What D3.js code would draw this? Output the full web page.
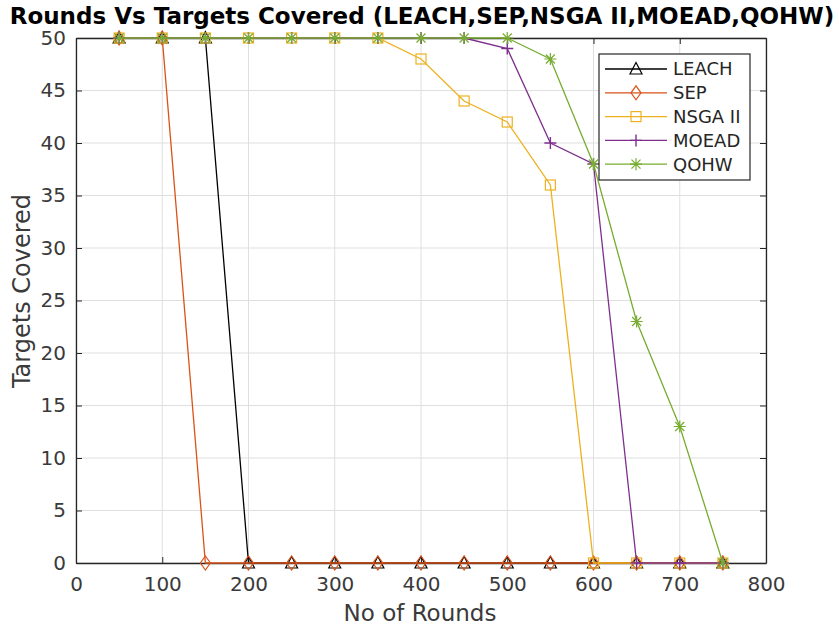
<!DOCTYPE html>
<html><head><meta charset="utf-8">
<script src="https://cdn.jsdelivr.net/npm/d3@7"></script>
<style>body{margin:0;background:#fff;font-family:"DejaVu Sans",sans-serif;}</style>
</head><body><svg id="c" width="839" height="628"></svg>
<script>
const rounds = [50,100,150,200,250,300,350,400,450,500,550,600,650,700,750];
const leach = [50,50,50,0,0,0,0,0,0,0,0,0,0,0,0];
const sep   = [50,50,0,0,0,0,0,0,0,0,0,0,0,0,0];
const nsga  = [50,50,50,50,50,50,50,48,44,42,36,0,0,0,0];
const moead = [50,50,50,50,50,50,50,50,50,49,40,38,0,0,0];
const qohw  = [50,50,50,50,50,50,50,50,50,50,48,38,23,13,0];
const seriesNames = ["LEACH","SEP","NSGA II","MOEAD","QOHW"];
const seriesColors = ["#000000","#D95319","#EDB120","#7E2F8E","#77AC30"];
const seriesMarkers = ["triangle","diamond","square","plus","asterisk"];
const seriesData = [leach,sep,nsga,moead,qohw];
const xTicks = [0,100,200,300,400,500,600,700,800];
const yTicks = [0,5,10,15,20,25,30,35,40,45,50];

const svg = d3.select("#c");
const L=76,R=766,T=38,B=563;
const x = d3.scaleLinear().domain([0,800]).range([L,R]);
const y = d3.scaleLinear().domain([0,50]).range([B,T]);

// grid
const g = svg.append("g");
g.selectAll(".gx").data(xTicks).enter().append("line")
 .attr("x1",d=>x(d)).attr("x2",d=>x(d)).attr("y1",T).attr("y2",B)
 .attr("stroke","#dfdfdf").attr("stroke-width",1);
g.selectAll(".gy").data(yTicks).enter().append("line")
 .attr("y1",d=>y(d)).attr("y2",d=>y(d)).attr("x1",L).attr("x2",R)
 .attr("stroke","#dfdfdf").attr("stroke-width",1);

// axes
const ax = svg.append("g").attr("transform",`translate(0,${B})`)
 .call(d3.axisBottom(x).tickValues(xTicks).tickSizeInner(-6).tickSizeOuter(0).tickPadding(14));
const ay = svg.append("g").attr("transform",`translate(${L},0)`)
 .call(d3.axisLeft(y).tickValues(yTicks).tickSizeInner(-6).tickSizeOuter(0).tickPadding(10));
const axTop = svg.append("g").attr("transform",`translate(0,${T})`)
 .call(d3.axisTop(x).tickValues(xTicks).tickSizeInner(-6).tickSizeOuter(0).tickFormat(""));
const ayR = svg.append("g").attr("transform",`translate(${R},0)`)
 .call(d3.axisRight(y).tickValues(yTicks).tickSizeInner(-6).tickSizeOuter(0).tickFormat(""));
[ax,ay,axTop,ayR].forEach(a=>{
  a.selectAll("path").attr("stroke","#262626").attr("stroke-width",1.3);
  a.selectAll("line").attr("stroke","#262626");
  a.selectAll("text").attr("fill","#3a3a3a").style("font-size","20px").style("font-family","DejaVu Sans");
});

// marker drawing
function marker(sel, type, color){
  const s=sel;
  if(type==="triangle"){
    s.append("path").attr("d","M0,-6.5L6,5L-6,5Z").attr("fill","none").attr("stroke",color).attr("stroke-width",1.2);
  } else if(type==="diamond"){
    s.append("path").attr("d","M0,-7L5,0L0,7L-5,0Z").attr("fill","none").attr("stroke",color).attr("stroke-width",1.2);
  } else if(type==="square"){
    s.append("rect").attr("x",-5).attr("y",-5).attr("width",10).attr("height",10).attr("fill","none").attr("stroke",color).attr("stroke-width",1.2);
  } else if(type==="plus"){
    s.append("path").attr("d","M-6,0H6M0,-6V6").attr("stroke",color).attr("stroke-width",1.4);
  } else if(type==="asterisk"){
    s.append("path").attr("d","M-6,0H6M0,-6V6M-4.5,-4.5L4.5,4.5M-4.5,4.5L4.5,-4.5").attr("stroke",color).attr("stroke-width",1.2);
  }
}

const line = d3.line().x(d=>x(d[0])).y(d=>y(d[1]));
seriesData.forEach((vals,i)=>{
  const pts = rounds.map((r,j)=>[r,vals[j]]);
  svg.append("path").datum(pts).attr("d",line).attr("fill","none")
    .attr("stroke",seriesColors[i]).attr("stroke-width",1.3);
  pts.forEach(p=>{
    marker(svg.append("g").attr("transform",`translate(${x(p[0])},${y(p[1])})`),seriesMarkers[i],seriesColors[i]);
  });
});

// legend
const lg = svg.append("g");
lg.append("rect").attr("x",599).attr("y",54).attr("width",151).attr("height",126)
  .attr("fill","#fff").attr("stroke","#262626").attr("stroke-width",1.2);
seriesNames.forEach((n,i)=>{
  const yy = 69 + i*23.8;
  lg.append("line").attr("x1",605).attr("x2",667).attr("y1",yy).attr("y2",yy).attr("stroke",seriesColors[i]).attr("stroke-width",1.3);
  marker(lg.append("g").attr("transform",`translate(636,${yy})`),seriesMarkers[i],seriesColors[i]);
  lg.append("text").attr("x",673).attr("y",yy).attr("dy","0.36em").text(n)
    .attr("fill","#262626").style("font-size","18px");
});

// titles
svg.append("text").attr("x",422).attr("y",24).attr("text-anchor","middle")
  .style("font-size","23px").style("font-weight","bold").attr("fill","#000")
  .text("Rounds Vs Targets Covered (LEACH,SEP,NSGA II,MOEAD,QOHW)");
svg.append("text").attr("x",420).attr("y",621).attr("text-anchor","middle")
  .style("font-size","23px").attr("fill","#3a3a3a").text("No of Rounds");
svg.append("text").attr("transform","translate(30,291) rotate(-90)").attr("text-anchor","middle")
  .style("font-size","24px").attr("fill","#3a3a3a").text("Targets Covered");
</script></body></html>
